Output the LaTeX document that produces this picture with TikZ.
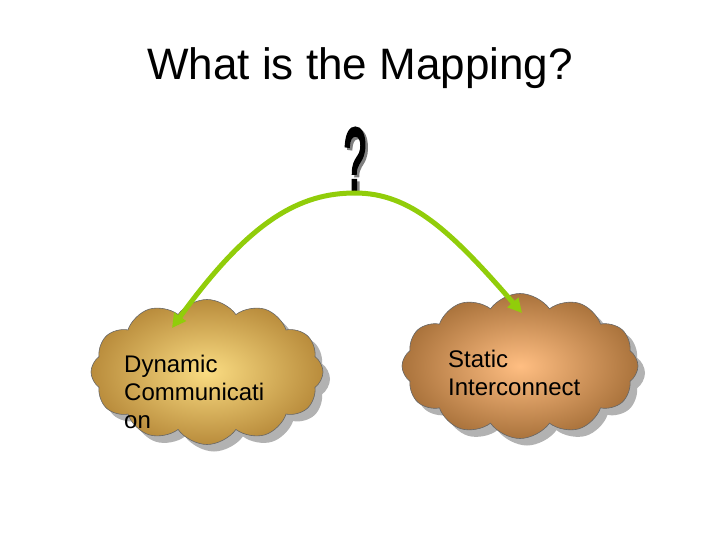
\documentclass[tikz,border=0pt]{standalone}
\usepackage{fontspec}
\setmainfont{Liberation Sans}
\newfontfamily\qfont[FakeBold=4]{Liberation Sans}
\usetikzlibrary{shapes.symbols,arrows.meta}
\newcommand{\qglyph}{\qfont\scalebox{0.8}[1.75]{\fontsize{50}{50}\selectfont ?}}
\begin{document}
\begin{tikzpicture}[x=1pt,y=-1pt,
  cloudbox/.style={cloud,cloud puffs=12,cloud puff arc=110,aspect=1.6,inner sep=0pt},
  lbl/.style={align=left,anchor=north west,font=\fontsize{24}{28}\selectfont,inner sep=0pt},
  link/.style={line width=5pt,draw={rgb,255:red,145;green,205;blue,10},-{Triangle[length=14pt,width=14pt]}}]
\useasboundingbox (0,0) rectangle (720,540);
\node (title) at (360,68) {\fontsize{44}{52}\selectfont What is the Mapping?};
% left cloud
\node[cloudbox,fill=gray!60,minimum width=232pt,minimum height=145pt] (ls) at (214,379) {};
\node[cloudbox,draw=black!60,line width=0.6pt,minimum width=232pt,minimum height=145pt,
  inner color={rgb,255:red,250;green,220;blue,130},outer color={rgb,255:red,185;green,140;blue,60}] (lc) at (207,372) {};
\node[lbl] (lt) at (124,355) {Dynamic\\Communicati\\on};
% right cloud
\node[cloudbox,fill=gray!60,minimum width=236pt,minimum height=145pt] (rs) at (527,373) {};
\node[cloudbox,draw=black!60,line width=0.6pt,minimum width=236pt,minimum height=145pt,
  inner color={rgb,255:red,255;green,190;blue,130},outer color={rgb,255:red,170;green,115;blue,60}] (rc) at (520,366) {};
\node[lbl] (rt) at (448,350) {Static\\Interconnect};
% question mark with shadow
\node (q) at (355,160) {\rlap{\hspace{2.5pt}\raisebox{-2.5pt}{\color{gray}\qglyph}}\qglyph};
% arrows
\coordinate (T) at (355,193);
\coordinate (L) at (172,328);
\coordinate (R) at (522,313);
\draw[link] (T) .. controls (300,193) and (250,220) .. (L);
\draw[link] (T) .. controls (410,193) and (450,230) .. (R);
\end{tikzpicture}
\end{document}
